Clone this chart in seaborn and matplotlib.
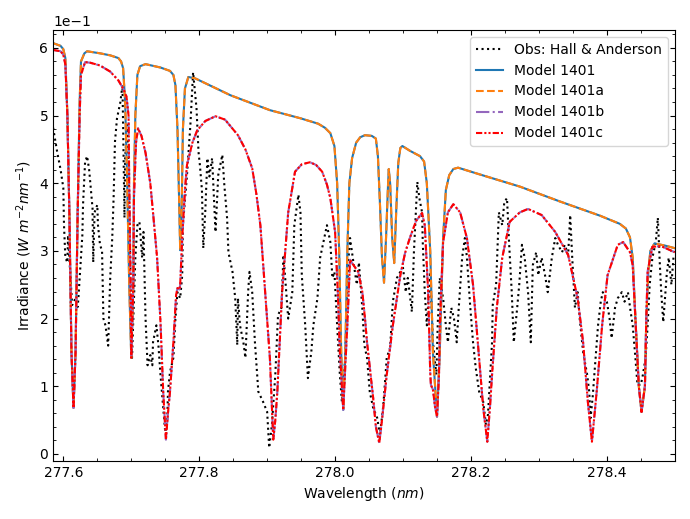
import matplotlib
matplotlib.use("Agg")
import matplotlib.pyplot as plt
from matplotlib.ticker import AutoMinorLocator
import seaborn as sns

obs_wl = [277.585, 277.591, 277.596, 277.600, 277.601, 277.603, 277.606, 277.607, 277.610, 277.613,
          277.618, 277.621, 277.622, 277.628, 277.629, 277.632, 277.635, 277.638, 277.643, 277.644,
          277.646, 277.650, 277.651, 277.654, 277.657, 277.659, 277.662, 277.666, 277.669, 277.672,
          277.674, 277.676, 277.679, 277.684, 277.687, 277.688, 277.690, 277.691, 277.694, 277.696,
          277.699, 277.701, 277.706, 277.709, 277.712, 277.716, 277.718, 277.721, 277.724, 277.728,
          277.731, 277.732, 277.737, 277.740, 277.743, 277.747, 277.750, 277.753, 277.754, 277.757,
          277.762, 277.765, 277.768, 277.772, 277.775, 277.776, 277.782, 277.787, 277.791, 277.796,
          277.799, 277.801, 277.804, 277.806, 277.809, 277.812, 277.815, 277.819, 277.824, 277.828,
          277.834, 277.837, 277.841, 277.843, 277.849, 277.853, 277.856, 277.857, 277.860, 277.865,
          277.868, 277.872, 277.874, 277.878, 277.882, 277.887, 277.894, 277.900, 277.903, 277.907,
          277.912, 277.916, 277.921, 277.924, 277.928, 277.931, 277.937, 277.940, 277.946, 277.949,
          277.951, 277.956, 277.960, 277.965, 277.968, 277.974, 277.978, 277.984, 277.988, 277.993,
          277.996, 277.999, 278.003, 278.007, 278.010, 278.015, 278.019, 278.022, 278.026, 278.032,
          278.035, 278.040, 278.043, 278.047, 278.051, 278.056, 278.062, 278.066, 278.071, 278.076,
          278.081, 278.085, 278.091, 278.096, 278.100, 278.104, 278.107, 278.113, 278.116, 278.121,
          278.124, 278.128, 278.129, 278.132, 278.135, 278.140, 278.144, 278.149, 278.151, 278.154,
          278.159, 278.163, 278.166, 278.171, 278.175, 278.179, 278.182, 278.187, 278.191, 278.194,
          278.199, 278.203, 278.207, 278.212, 278.218, 278.222, 278.225, 278.231, 278.232, 278.237,
          278.241, 278.246, 278.249, 278.253, 278.256, 278.260, 278.263, 278.268, 278.271, 278.275,
          278.279, 278.284, 278.288, 278.291, 278.296, 278.299, 278.304, 278.309, 278.313, 278.319,
          278.324, 278.328, 278.334, 278.338, 278.343, 278.346, 278.349, 278.353, 278.357, 278.360,
          278.365, 278.371, 278.374, 278.376, 278.379, 278.384, 278.387, 278.391, 278.394, 278.400,
          278.404, 278.407, 278.412, 278.416, 278.422, 278.426, 278.431, 278.435, 278.438, 278.442,
          278.445, 278.450, 278.453, 278.457, 278.460, 278.463, 278.467, 278.472, 278.475, 278.478,
          278.480, 278.483, 278.488, 278.491, 278.495, 278.498]
obs_irr = [0.482, 0.446, 0.420, 0.393, 0.338, 0.290, 0.283, 0.323, 0.270, 0.220,
           0.230, 0.217, 0.227, 0.323, 0.368, 0.431, 0.440, 0.420, 0.363, 0.283,
           0.357, 0.368, 0.338, 0.309, 0.300, 0.200, 0.190, 0.160, 0.260, 0.319,
           0.378, 0.461, 0.496, 0.520, 0.545, 0.486, 0.349, 0.437, 0.486, 0.427,
           0.250, 0.139, 0.290, 0.338, 0.343, 0.290, 0.328, 0.200, 0.131, 0.146,
           0.131, 0.165, 0.190, 0.160, 0.117, 0.068, 0.032, 0.050, 0.092, 0.121,
           0.142, 0.200, 0.239, 0.230, 0.264, 0.338, 0.412, 0.486, 0.564, 0.511,
           0.446, 0.427, 0.390, 0.304, 0.360, 0.437, 0.410, 0.437, 0.328, 0.412,
           0.442, 0.397, 0.349, 0.298, 0.269, 0.230, 0.161, 0.230, 0.190, 0.165,
           0.142, 0.239, 0.269, 0.239, 0.165, 0.092, 0.077, 0.062, 0.009, 0.043,
           0.117, 0.205, 0.216, 0.294, 0.239, 0.200, 0.239, 0.338, 0.383, 0.357,
           0.264, 0.190, 0.112, 0.151, 0.190, 0.230, 0.290, 0.319, 0.338, 0.313,
           0.260, 0.269, 0.190, 0.117, 0.077, 0.142, 0.279, 0.319, 0.290, 0.250,
           0.283, 0.216, 0.161, 0.142, 0.092, 0.068, 0.053, 0.028, 0.072, 0.142,
           0.157, 0.225, 0.260, 0.269, 0.275, 0.239, 0.260, 0.210, 0.298, 0.402,
           0.378, 0.357, 0.313, 0.239, 0.190, 0.269, 0.165, 0.117, 0.190, 0.260,
           0.230, 0.190, 0.165, 0.216, 0.200, 0.165, 0.216, 0.290, 0.319, 0.290,
           0.216, 0.165, 0.127, 0.092, 0.077, 0.043, 0.058, 0.165, 0.220, 0.250,
           0.357, 0.338, 0.372, 0.378, 0.313, 0.239, 0.165, 0.216, 0.250, 0.309,
           0.290, 0.239, 0.165, 0.279, 0.298, 0.264, 0.290, 0.264, 0.239, 0.290,
           0.319, 0.309, 0.298, 0.309, 0.294, 0.353, 0.290, 0.216, 0.239, 0.200,
           0.151, 0.117, 0.092, 0.053, 0.083, 0.151, 0.190, 0.225, 0.239, 0.225,
           0.200, 0.171, 0.216, 0.230, 0.239, 0.225, 0.239, 0.210, 0.190, 0.142,
           0.102, 0.102, 0.117, 0.142, 0.190, 0.250, 0.290, 0.313, 0.349, 0.279,
           0.239, 0.195, 0.264, 0.290, 0.250, 0.290]

# Model 1401 / 1401a (they overlap)
m1_wl = [277.585, 277.596, 277.600, 277.603, 277.606, 277.609, 277.612, 277.615, 277.618, 277.621,
         277.624, 277.626, 277.631, 277.635, 277.654, 277.669, 277.681, 277.685, 277.688, 277.691,
         277.694, 277.697, 277.700, 277.703, 277.704, 277.706, 277.709, 277.713, 277.721, 277.743,
         277.757, 277.762, 277.765, 277.768, 277.771, 277.772, 277.774, 277.776, 277.779, 277.784,
         277.794, 277.846, 277.904, 277.949, 277.975, 277.985, 277.993, 277.999, 278.003, 278.006,
         278.009, 278.012, 278.015, 278.018, 278.021, 278.025, 278.031, 278.037, 278.044, 278.054,
         278.060, 278.063, 278.066, 278.069, 278.072, 278.075, 278.078, 278.079, 278.081, 278.084,
         278.087, 278.090, 278.093, 278.096, 278.099, 278.110, 278.125, 278.131, 278.135, 278.140,
         278.144, 278.150, 278.154, 278.159, 278.163, 278.168, 278.174, 278.181, 278.213, 278.272,
         278.331, 278.390, 278.419, 278.428, 278.434, 278.438, 278.442, 278.447, 278.451, 278.456,
         278.458, 278.461, 278.464, 278.470, 278.485, 278.500]
m1_irr = [0.607, 0.603, 0.598, 0.585, 0.500, 0.350, 0.150, 0.068, 0.150, 0.350,
          0.520, 0.580, 0.592, 0.595, 0.592, 0.589, 0.585, 0.580, 0.570, 0.520,
          0.400, 0.250, 0.142, 0.250, 0.400, 0.500, 0.560, 0.573, 0.576, 0.571,
          0.566, 0.560, 0.545, 0.480, 0.350, 0.301, 0.350, 0.480, 0.540, 0.557,
          0.555, 0.530, 0.508, 0.496, 0.488, 0.482, 0.474, 0.455, 0.400, 0.300,
          0.150, 0.065, 0.150, 0.300, 0.400, 0.437, 0.460, 0.468, 0.471, 0.470,
          0.466, 0.440, 0.370, 0.290, 0.253, 0.320, 0.400, 0.421, 0.400, 0.320,
          0.282, 0.360, 0.430, 0.452, 0.455, 0.448, 0.440, 0.432, 0.400, 0.300,
          0.150, 0.055, 0.150, 0.320, 0.390, 0.412, 0.421, 0.423, 0.413, 0.395,
          0.373, 0.352, 0.340, 0.333, 0.320, 0.290, 0.200, 0.100, 0.062, 0.100,
          0.200, 0.270, 0.300, 0.311, 0.308, 0.304]

# Model 1401b / 1401c (they overlap)
m2_wl = [277.585, 277.596, 277.600, 277.603, 277.606, 277.609, 277.612, 277.615, 277.618, 277.621,
         277.624, 277.626, 277.632, 277.640, 277.654, 277.669, 277.681, 277.688, 277.693, 277.696,
         277.697, 277.699, 277.700, 277.703, 277.704, 277.707, 277.710, 277.715, 277.721, 277.728,
         277.732, 277.738, 277.743, 277.747, 277.751, 277.754, 277.757, 277.762, 277.766, 277.768,
         277.771, 277.772, 277.775, 277.779, 277.782, 277.790, 277.797, 277.809, 277.824, 277.838,
         277.857, 277.868, 277.878, 277.884, 277.890, 277.897, 277.904, 277.909, 277.912, 277.915,
         277.922, 277.931, 277.941, 277.951, 277.963, 277.972, 277.981, 277.988, 277.993, 278.000,
         278.004, 278.007, 278.012, 278.015, 278.018, 278.021, 278.022, 278.025, 278.034, 278.040,
         278.044, 278.047, 278.056, 278.060, 278.065, 278.069, 278.076, 278.085, 278.096, 278.103,
         278.110, 278.119, 278.128, 278.132, 278.137, 278.140, 278.141, 278.144, 278.147, 278.150,
         278.153, 278.154, 278.159, 278.166, 278.174, 278.184, 278.194, 278.203, 278.210, 278.218,
         278.224, 278.228, 278.231, 278.238, 278.246, 278.257, 278.272, 278.284, 278.304, 278.324,
         278.343, 278.357, 278.365, 278.372, 278.378, 278.382, 278.385, 278.393, 278.401, 278.416,
         278.424, 278.434, 278.438, 278.442, 278.447, 278.451, 278.456, 278.458, 278.460, 278.467,
         278.480, 278.500]
m2_irr = [0.597, 0.595, 0.590, 0.575, 0.500, 0.350, 0.150, 0.068, 0.150, 0.350,
          0.500, 0.560, 0.579, 0.578, 0.574, 0.565, 0.552, 0.540, 0.528, 0.500,
          0.400, 0.250, 0.142, 0.250, 0.380, 0.460, 0.481, 0.470, 0.445, 0.400,
          0.357, 0.290, 0.195, 0.092, 0.021, 0.060, 0.092, 0.165, 0.235, 0.245,
          0.243, 0.250, 0.319, 0.390, 0.427, 0.460, 0.478, 0.492, 0.499, 0.494,
          0.471, 0.450, 0.422, 0.385, 0.338, 0.239, 0.142, 0.021, 0.050, 0.092,
          0.239, 0.357, 0.417, 0.428, 0.431, 0.427, 0.417, 0.398, 0.378, 0.328,
          0.239, 0.150, 0.065, 0.130, 0.190, 0.260, 0.287, 0.282, 0.269, 0.240,
          0.200, 0.165, 0.083, 0.040, 0.016, 0.050, 0.117, 0.190, 0.264, 0.297,
          0.319, 0.344, 0.356, 0.338, 0.239, 0.120, 0.102, 0.095, 0.070, 0.055,
          0.120, 0.190, 0.313, 0.357, 0.369, 0.357, 0.319, 0.250, 0.165, 0.068,
          0.018, 0.070, 0.117, 0.216, 0.290, 0.343, 0.357, 0.362, 0.353, 0.328,
          0.294, 0.230, 0.165, 0.077, 0.018, 0.060, 0.092, 0.190, 0.264, 0.309,
          0.313, 0.298, 0.279, 0.200, 0.100, 0.062, 0.100, 0.200, 0.270, 0.306,
          0.307, 0.298]

fig = plt.figure(figsize=(6.9, 5.19), dpi=100)
ax = fig.add_axes([0.077, 0.112, 0.901, 0.830])

sns.lineplot(x=obs_wl, y=obs_irr, ax=ax, color='black', linestyle=':', linewidth=1.5,
             label='Obs: Hall & Anderson', estimator=None, sort=False)
sns.lineplot(x=m1_wl, y=m1_irr, ax=ax, color='C0', linestyle='-', linewidth=1.5,
             label='Model 1401', estimator=None, sort=False)
sns.lineplot(x=m1_wl, y=m1_irr, ax=ax, color='C1', linestyle='--', linewidth=1.5,
             label='Model 1401a', estimator=None, sort=False)
sns.lineplot(x=m2_wl, y=m2_irr, ax=ax, color='C4', linestyle='-.', linewidth=1.5,
             label='Model 1401b', estimator=None, sort=False)
sns.lineplot(x=m2_wl, y=m2_irr, ax=ax, color='red', linestyle=(0, (3, 1, 1, 1, 1, 1)), linewidth=1.5,
             label='Model 1401c', estimator=None, sort=False)

ax.set_xlim(277.585, 278.5)
ax.set_ylim(-0.0103, 0.6263)
ax.set_xlabel('Wavelength ($nm$)')
ax.set_ylabel('Irradiance ($W\\ m^{-2} nm^{-1}$)')
ax.ticklabel_format(axis='y', style='sci', scilimits=(0, 0))
ax.xaxis.set_minor_locator(AutoMinorLocator())
ax.yaxis.set_minor_locator(AutoMinorLocator())
ax.tick_params(which='both', direction='in', top=True, right=True)
ax.legend(loc='upper right')

fig.savefig('out.png', dpi=100)
